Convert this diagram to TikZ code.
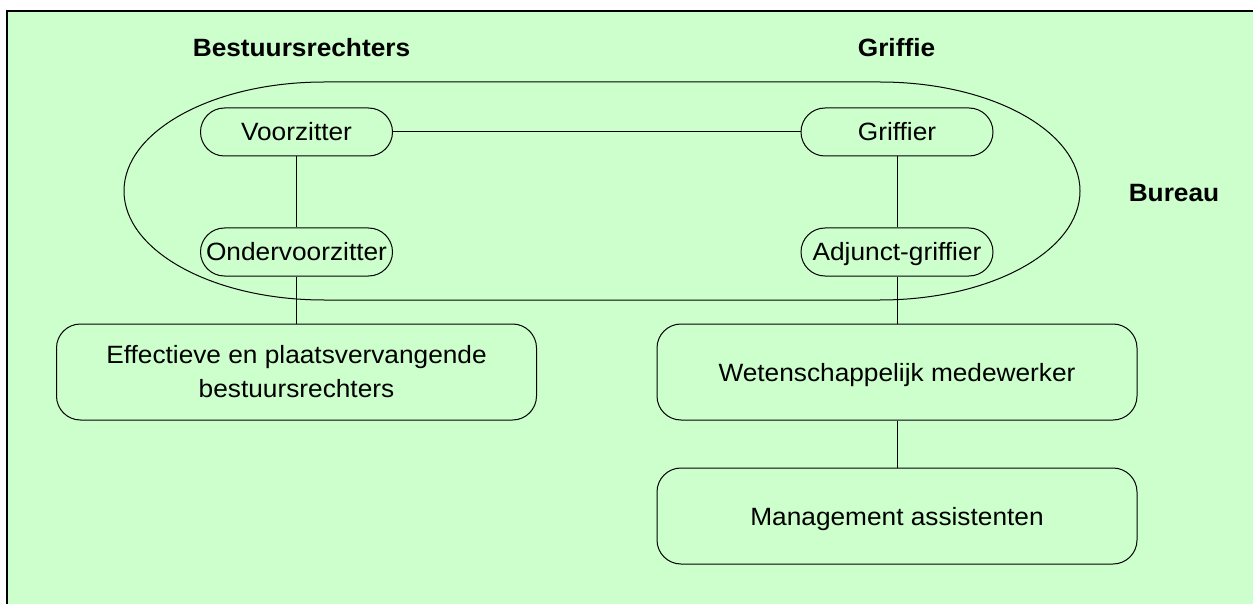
\documentclass[tikz,border=0pt]{standalone}
\usepackage{fontspec}
\setmainfont{Liberation Sans}[FakeStretch=1.05]
\definecolor{bggreen}{HTML}{CCFFCC}
\begin{document}
\begin{tikzpicture}[x=1pt,y=-1pt,
  every node/.style={font=\fontsize{25}{34}\selectfont, text=black},
  pill/.style={draw=black, line width=1pt, rounded corners=24pt, minimum width=192pt, minimum height=48pt, inner sep=0pt, text height=18pt, text depth=0pt},
  bigbox/.style={draw=black, line width=1pt, rounded corners=24pt, minimum width=480pt, minimum height=96pt, inner sep=0pt, align=center},
  oneline/.style={text height=18pt, text depth=0pt},
  head/.style={font=\fontsize{25}{30}\selectfont\bfseries, anchor=base},
  link/.style={line width=1pt},
  group/.style={line width=1pt}]
\useasboundingbox (0,0) rectangle (1253,604);
\fill[white] (0,0) rectangle (1253,604);
\fill[bggreen] (7,11) rectangle (1253,604);
\draw[line width=2pt] (7,604) -- (7,11) -- (1253,11);

% Bureau grouping shape
\draw[group] (324,82) -- (880,82)
  arc[start angle=-90, end angle=0, x radius=200, y radius=109]
  arc[start angle=0, end angle=90, x radius=200, y radius=109]
  -- (324,300)
  arc[start angle=90, end angle=180, x radius=200, y radius=109]
  arc[start angle=180, end angle=270, x radius=200, y radius=109]
  -- cycle;

\node[head] (lb) at (301.5,57) {Bestuursrechters};
\node[head] (lg) at (896.5,57) {Griffie};
\node[head] (lbu) at (1174,202) {Bureau};

\node[pill] (vz) at (296.5,132) {Voorzitter};
\node[pill] (gr) at (897,132) {Griffier};
\node[pill] (ovz) at (296.5,252) {Ondervoorzitter};
\node[pill] (ag) at (897,252) {Adjunct-griffier};
\node[bigbox] (eff) at (296.5,372) {Effectieve en plaatsvervangende\\bestuursrechters};
\node[bigbox, oneline] (wm) at (897,372) {Wetenschappelijk medewerker};
\node[bigbox, oneline] (ma) at (897,516) {Management assistenten};

\draw[link] (vz) -- (gr);
\draw[link] (vz) -- (ovz);
\draw[link] (ovz) -- (eff);
\draw[link] (gr) -- (ag);
\draw[link] (ag) -- (wm);
\draw[link] (wm) -- (ma);
\end{tikzpicture}
\end{document}
